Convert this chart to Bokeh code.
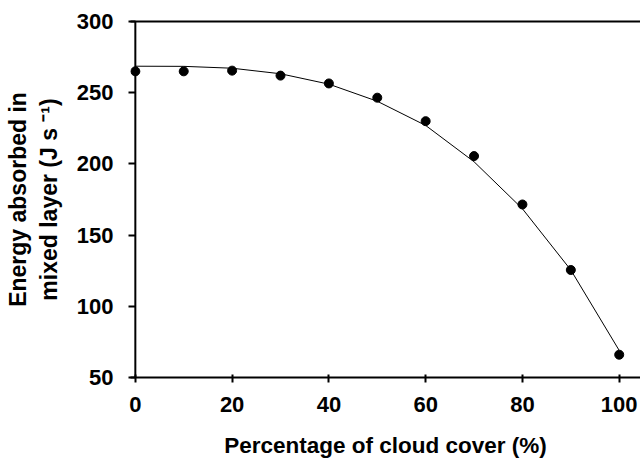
from bokeh.plotting import figure
from bokeh.models import Range1d, LinearAxis, FixedTicker, Span
from bokeh.embed import file_html
from bokeh.resources import INLINE

# Data
cloud_cover = [0, 10, 20, 30, 40, 50, 60, 70, 80, 90, 100]
energy = [265, 265, 265.5, 262, 256.5, 246.5, 230, 205.5, 171.5, 125.5, 66]

# fitted curve values
fit_x = [0, 10, 20, 30, 40, 50, 60, 70, 80, 90, 100]
fit_y = [268.6, 268.5, 267.2, 263.3, 256, 244, 227, 201.5, 168.5, 125.5, 69]

x_ticks = [0, 20, 40, 60, 80, 100]
y_ticks = [50, 100, 150, 200, 250, 300]

x_title = "Percentage of cloud cover (%)"
y_title = "Energy absorbed in\nmixed layer (J s \u207b\u00b9)"

FONT = "Liberation Sans"

p = figure(width=640, height=460, output_backend="svg", toolbar_location=None,
           x_range=Range1d(-1.0, 104.4), y_range=Range1d(50, 300),
           x_axis_label=x_title, y_axis_label=y_title,
           min_border_left=130, min_border_right=0, min_border_top=21,
           min_border_bottom=83)
p.grid.visible = False
p.outline_line_color = None
p.background_fill_color = "white"
p.border_fill_color = "white"

p.line(fit_x, fit_y, line_color="black", line_width=1)
p.scatter(cloud_cover, energy, size=9, fill_color="black", line_color="black")

# visible y axis line at x = 0
p.add_layout(Span(location=0, dimension="height", line_color="black", line_width=2))

xa = p.xaxis[0]
xa.ticker = FixedTicker(ticks=x_ticks)
xa.axis_line_width = 2
xa.axis_line_color = "black"
xa.major_tick_in = 3
xa.major_tick_out = 5
xa.major_tick_line_width = 2
xa.minor_tick_line_color = None
xa.major_label_standoff = 14
xa.major_label_text_font = FONT
xa.major_label_text_font_style = "bold"
xa.major_label_text_font_size = "22px"
xa.major_label_text_color = "black"
xa.axis_label_text_font = FONT
xa.axis_label_text_font_style = "bold"
xa.axis_label_text_font_size = "22.5px"
xa.axis_label_text_color = "black"
xa.axis_label_standoff = 18

ya = p.yaxis[0]
ya.ticker = FixedTicker(ticks=y_ticks)
ya.axis_line_color = None
ya.major_tick_in = 5
ya.major_tick_out = 2
ya.major_tick_line_width = 2
ya.minor_tick_line_color = None
ya.major_label_standoff = 15
ya.major_label_text_font = FONT
ya.major_label_text_font_style = "bold"
ya.major_label_text_font_size = "22px"
ya.major_label_text_color = "black"
ya.axis_label_text_font = FONT
ya.axis_label_text_font_style = "bold"
ya.axis_label_text_font_size = "23px"
ya.axis_label_text_color = "black"
ya.axis_label_standoff = 12

top = LinearAxis(ticker=FixedTicker(ticks=[]))
top.axis_line_width = 2
top.axis_line_color = "black"
top.major_tick_line_color = None
top.minor_tick_line_color = None
p.add_layout(top, "above")

open("out.html", "w").write(file_html(p, INLINE))
